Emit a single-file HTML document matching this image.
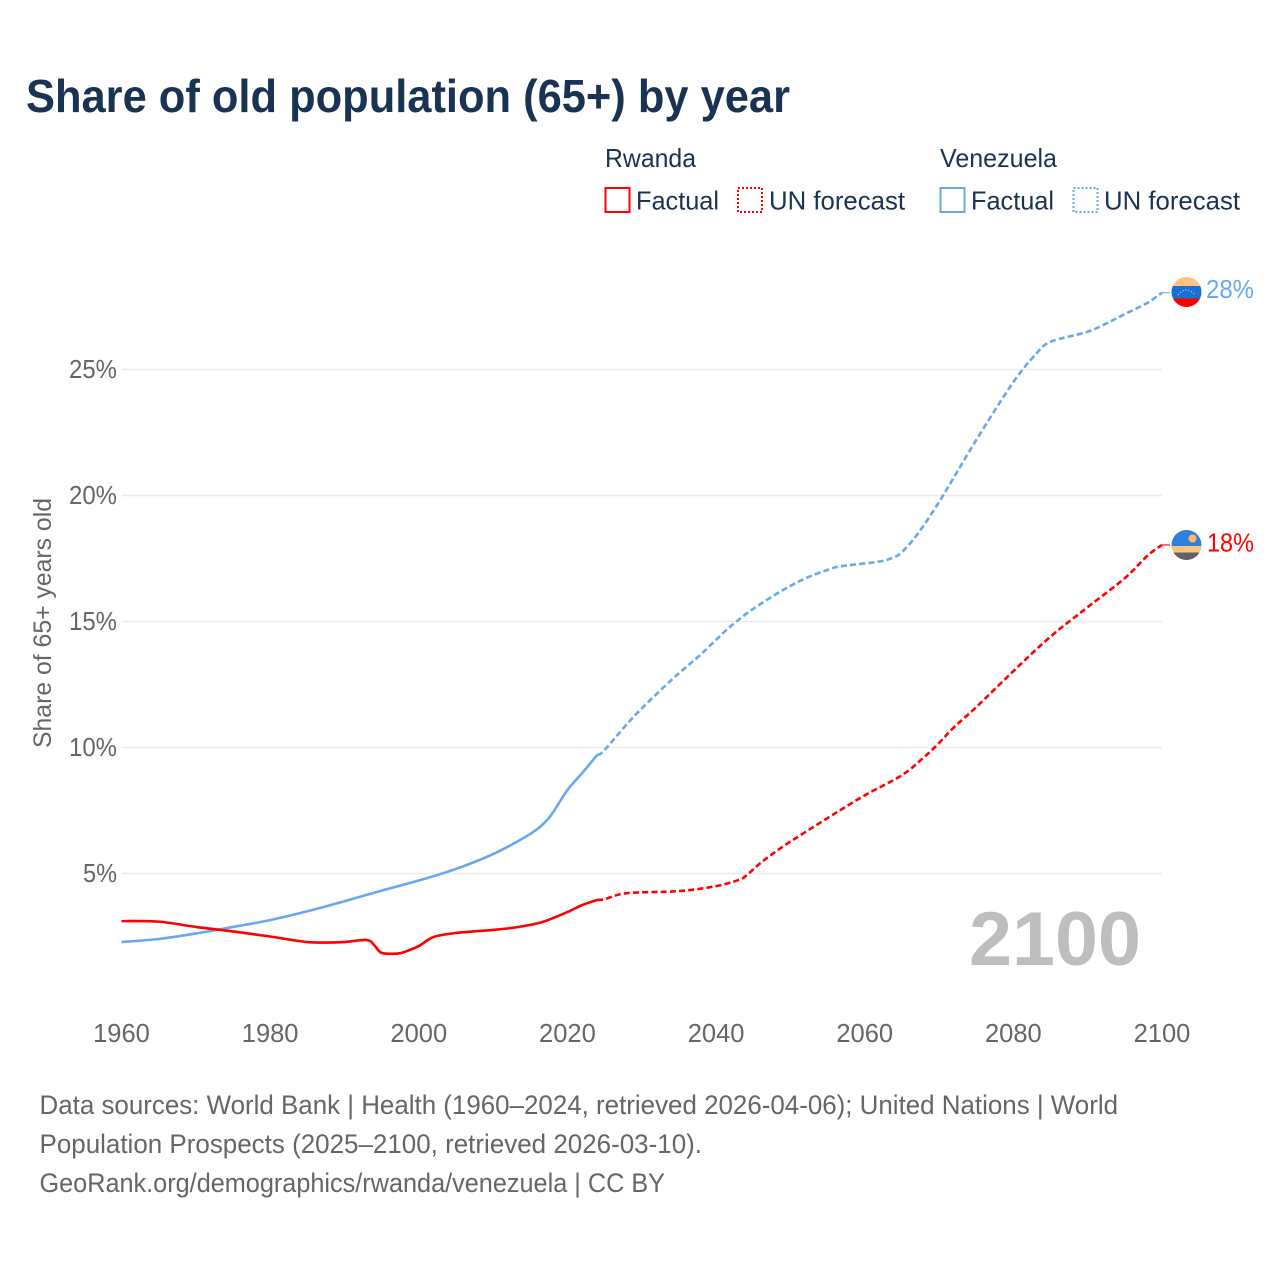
<!DOCTYPE html>
<html lang="en">
<head>
<meta charset="utf-8">
<title>Share of old population (65+) by year</title>
<style>
html,body{margin:0;padding:0;background:#fff}
svg{display:block}
text{font-family:"Liberation Sans",sans-serif}
</style>
</head>
<body>
<svg id="chart" xmlns="http://www.w3.org/2000/svg" width="1280" height="1280" viewBox="0 0 1280 1280">
  <text x="26" y="112" font-size="46" font-weight="700" fill="#1a3353" textLength="764" lengthAdjust="spacingAndGlyphs">Share of old population (65+) by year</text>

  <g font-size="26" fill="#1a3353">
    <text x="605" y="167" textLength="91" lengthAdjust="spacingAndGlyphs">Rwanda</text>
    <rect x="605.5" y="188" width="24" height="24" fill="none" stroke="#ff0000" stroke-width="2"/>
    <text x="636" y="209.5" textLength="83" lengthAdjust="spacingAndGlyphs">Factual</text>
    <rect x="738" y="188" width="24" height="24" fill="none" stroke="#ff0000" stroke-width="2" stroke-dasharray="2 2"/>
    <text x="769" y="209.5" textLength="136" lengthAdjust="spacingAndGlyphs">UN forecast</text>
    <text x="940" y="167" textLength="117" lengthAdjust="spacingAndGlyphs">Venezuela</text>
    <rect x="940.5" y="188" width="24" height="24" fill="none" stroke="#66a9ec" stroke-width="2"/>
    <text x="971" y="209.5" textLength="83" lengthAdjust="spacingAndGlyphs">Factual</text>
    <rect x="1073.5" y="188" width="24" height="24" fill="none" stroke="#66a9ec" stroke-width="2" stroke-dasharray="2 2"/>
    <text x="1104" y="209.5" textLength="136" lengthAdjust="spacingAndGlyphs">UN forecast</text>
  </g>

  <g id="grid"></g>
  <g id="yticks" font-size="25.5" fill="#666666" text-anchor="end"></g>
  <g id="xticks" font-size="25.5" fill="#666666" text-anchor="middle"></g>
  <text transform="translate(51 623) rotate(-90)" font-size="25" fill="#666666" text-anchor="middle" textLength="250" lengthAdjust="spacingAndGlyphs">Share of 65+ years old</text>

  <text x="969" y="965" font-size="76" font-weight="700" fill="#bebebe" textLength="172" lengthAdjust="spacingAndGlyphs">2100</text>

  <g id="series"></g>

  <defs>
    <clipPath id="flag-clip-ve"><circle cx="1186.5" cy="292" r="15"/></clipPath>
    <clipPath id="flag-clip-rw"><circle cx="1186.5" cy="545" r="15"/></clipPath>
  </defs>
  <g clip-path="url(#flag-clip-ve)">
    <rect x="1171" y="277" width="31" height="9" fill="#ffc27f"/>
    <rect x="1171" y="286" width="31" height="12.5" fill="#1b6fd4"/>
    <rect x="1171" y="298.5" width="31" height="9.5" fill="#ff0000"/>
    <path d="M1178 295 Q1186.5 285 1195 295" fill="none" stroke="#dbe8f8" stroke-width="1" stroke-dasharray="1 2"/>
  </g>
  <g clip-path="url(#flag-clip-rw)">
    <rect x="1171" y="530" width="31" height="16" fill="#2f7fdc"/>
    <rect x="1171" y="546" width="31" height="7.5" fill="#ffc27f"/>
    <rect x="1171" y="552.5" width="31" height="8.5" fill="#5d6268"/>
    <circle cx="1192.5" cy="538.5" r="4" fill="#ffb866"/>
  </g>

  <text x="1206" y="298" font-size="25.5" fill="#66a9ec" textLength="48" lengthAdjust="spacingAndGlyphs">28%</text>
  <text x="1207" y="551.5" font-size="25.5" fill="#ff0000" textLength="47" lengthAdjust="spacingAndGlyphs">18%</text>

  <g font-size="27" fill="#666666">
    <text x="39.5" y="1114" textLength="1078.5" lengthAdjust="spacingAndGlyphs">Data sources: World Bank | Health (1960–2024, retrieved 2026-04-06); United Nations | World</text>
    <text x="39.5" y="1153" textLength="662.5" lengthAdjust="spacingAndGlyphs">Population Prospects (2025–2100, retrieved 2026-03-10).</text>
    <text x="39.5" y="1192" textLength="625.5" lengthAdjust="spacingAndGlyphs">GeoRank.org/demographics/rwanda/venezuela | CC BY</text>
  </g>
</svg>
<script>
var xTicks = [1960, 1980, 2000, 2020, 2040, 2060, 2080, 2100];
var yTicks = [5, 10, 15, 20, 25];

var rwandaFactualYears = [1960, 1965, 1970, 1975, 1980, 1983, 1985, 1987, 1990, 1993, 1994, 1995, 1997, 1998, 2000, 2002, 2005, 2010, 2013, 2015, 2017, 2020, 2022, 2024];
var rwandaFactualValues = [3.11, 3.09, 2.88, 2.70, 2.50, 2.36, 2.28, 2.26, 2.28, 2.36, 2.16, 1.85, 1.82, 1.88, 2.12, 2.48, 2.64, 2.76, 2.86, 2.96, 3.11, 3.47, 3.75, 3.95];

var rwandaForecastYears = [2024, 2025, 2028, 2035, 2040, 2043, 2044, 2046, 2049, 2055, 2060, 2065, 2068, 2070, 2072, 2075, 2080, 2085, 2090, 2095, 2098, 2100];
var rwandaForecastValues = [3.95, 3.98, 4.22, 4.30, 4.50, 4.74, 4.90, 5.42, 6.07, 7.20, 8.10, 8.90, 9.62, 10.18, 10.80, 11.60, 13.03, 14.40, 15.57, 16.72, 17.60, 18.04];

var venezuelaFactualYears = [1960, 1965, 1970, 1975, 1980, 1985, 1990, 1995, 2000, 2005, 2010, 2015, 2017, 2018, 2020, 2022, 2024];
var venezuelaFactualValues = [2.28, 2.40, 2.62, 2.88, 3.15, 3.50, 3.90, 4.32, 4.72, 5.18, 5.77, 6.57, 7.04, 7.40, 8.31, 8.99, 9.70];

var venezuelaForecastYears = [2024, 2025, 2029, 2034, 2038, 2042, 2046, 2051, 2055, 2057, 2062, 2064, 2065, 2067, 2070, 2075, 2080, 2083, 2085, 2090, 2093, 2095, 2098, 2100];
var venezuelaForecastValues = [9.70, 9.90, 11.25, 12.68, 13.71, 14.82, 15.70, 16.57, 17.05, 17.20, 17.38, 17.56, 17.75, 18.43, 19.74, 22.20, 24.50, 25.60, 26.10, 26.50, 26.90, 27.20, 27.64, 28.05];

var NS = 'http://www.w3.org/2000/svg';
function xScale(year) { return 121.5 + (year - 1960) * (1162 - 121.5) / 140; }
function yScale(value) { return 999.5 - value * 25.2; }

var gridGroup = document.getElementById('grid');
var yTickGroup = document.getElementById('yticks');
var xTickGroup = document.getElementById('xticks');
var seriesGroup = document.getElementById('series');

yTicks.forEach(function (v) {
  var line = document.createElementNS(NS, 'line');
  
  
  line.setAttribute('x1', xScale(1960));
  line.setAttribute('x2', xScale(2100));
  line.setAttribute('y1', yScale(v));
  line.setAttribute('y2', yScale(v));
  line.setAttribute('stroke', '#ebebeb');
  line.setAttribute('stroke-width', '1.5');
  gridGroup.appendChild(line);

  var label = document.createElementNS(NS, 'text');
  
  
  label.setAttribute('x', 117);
  label.setAttribute('y', yScale(v) + 8.5);
  label.setAttribute('textLength', v >= 10 ? 48 : 34);
  label.setAttribute('lengthAdjust', 'spacingAndGlyphs');
  label.textContent = v + '%';
  yTickGroup.appendChild(label);
});

xTicks.forEach(function (t) {
  var label = document.createElementNS(NS, 'text');
  
  
  label.setAttribute('x', xScale(t));
  label.setAttribute('y', 1042);
  label.textContent = t;
  xTickGroup.appendChild(label);
});

function smoothPath(years, values) {
  var p = years.map(function (y, i) { return [xScale(y), yScale(values[i])]; });
  var d = 'M' + p[0][0].toFixed(2) + ' ' + p[0][1].toFixed(2);
  for (var i = 0; i < p.length - 1; i++) {
    var a = p[Math.max(i - 1, 0)], b = p[i], c = p[i + 1], e = p[Math.min(i + 2, p.length - 1)];
    var c1x = b[0] + (c[0] - a[0]) / 6, c1y = b[1] + (c[1] - a[1]) / 6;
    var c2x = c[0] - (e[0] - b[0]) / 6, c2y = c[1] - (e[1] - b[1]) / 6;
    d += ' C' + c1x.toFixed(2) + ' ' + c1y.toFixed(2) + ' ' + c2x.toFixed(2) + ' ' + c2y.toFixed(2) + ' ' + c[0].toFixed(2) + ' ' + c[1].toFixed(2);
  }
  return d;
}

function drawLine(name, years, values, color, dash) {
  var line = document.createElementNS(NS, 'path');
  
  
  line.setAttribute('d', smoothPath(years, values));
  line.setAttribute('fill', 'none');
  line.setAttribute('stroke', color);
  line.setAttribute('stroke-width', '2.6');
  line.setAttribute('stroke-linejoin', 'round');
  if (dash) { line.setAttribute('stroke-dasharray', dash); }
  seriesGroup.appendChild(line);
}

function drawLeader(name, year, value, color) {
  var tick = document.createElementNS(NS, 'line');
  
  
  tick.setAttribute('x1', xScale(year));
  tick.setAttribute('x2', xScale(year) + 8);
  tick.setAttribute('y1', yScale(value));
  tick.setAttribute('y2', yScale(value));
  tick.setAttribute('stroke', color);
  tick.setAttribute('stroke-width', '1.6');
  tick.setAttribute('stroke-opacity', '0.7');
  seriesGroup.appendChild(tick);
}

drawLine('venezuela-factual-line', venezuelaFactualYears, venezuelaFactualValues, '#66a9ec', null);
drawLine('venezuela-forecast-line', venezuelaForecastYears, venezuelaForecastValues, '#66a9ec', '6 3.2');
drawLine('rwanda-factual-line', rwandaFactualYears, rwandaFactualValues, '#ff0000', null);
drawLine('rwanda-forecast-line', rwandaForecastYears, rwandaForecastValues, '#ff0000', '6 3.2');
drawLeader('venezuela-label-leader', 2100, venezuelaForecastValues[venezuelaForecastValues.length - 1], '#66a9ec');
drawLeader('rwanda-label-leader', 2100, rwandaForecastValues[rwandaForecastValues.length - 1], '#ff0000');
</script>
</body>
</html>
